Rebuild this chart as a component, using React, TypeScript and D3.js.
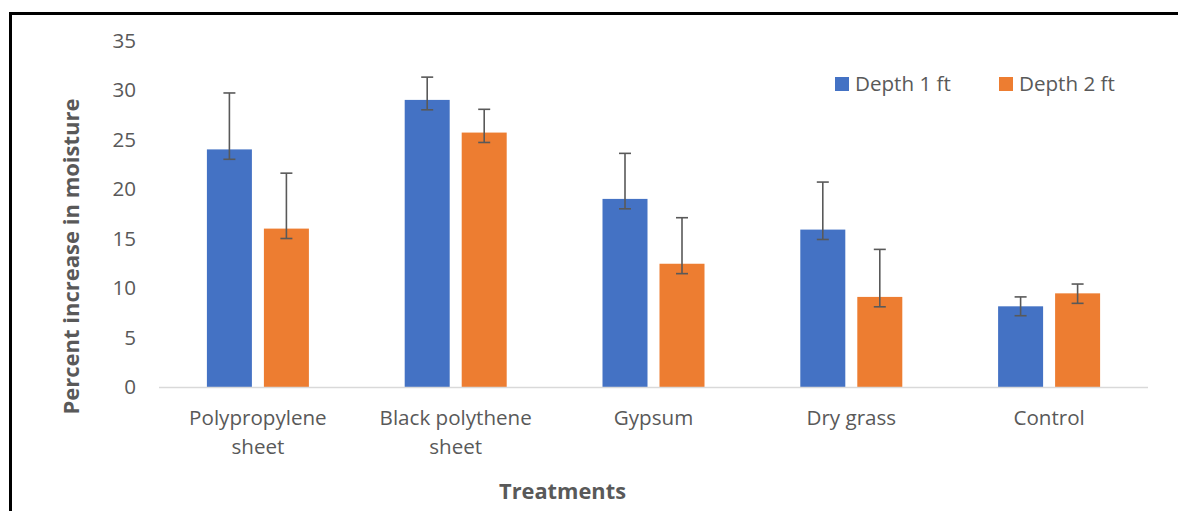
import React from "react";
import * as d3 from "d3";

const categories = ["Polypropylene sheet", "Black polythene sheet", "Gypsum", "Dry grass", "Control"];
const categoryLines = [["Polypropylene", "sheet"], ["Black polythene", "sheet"], ["Gypsum"], ["Dry grass"], ["Control"]];
const seriesNames = ["Depth 1 ft", "Depth 2 ft"];
const seriesColors = ["#4472C4", "#ED7D31"];
const depth1 = [24, 29, 19, 15.9, 8.15];
const depth1Low = [23, 28, 18, 14.9, 7.2];
const depth1High = [29.7, 31.3, 23.6, 20.7, 9.1];
const depth2 = [16, 25.7, 12.45, 9.1, 9.46];
const depth2Low = [15, 24.7, 11.45, 8.1, 8.45];
const depth2High = [21.6, 28.05, 17.1, 13.9, 10.4];
const yTicks = [0, 5, 10, 15, 20, 25, 30, 35];

const FONT = "'Open Sans', Lato, sans-serif";
const FS = 20.6;

export default function App() {
  const W = 1178, H = 511;
  const x0 = 159, x1 = 1148;
  const y = d3.scaleLinear().domain([0, 35]).range([387, 40.5]);
  const xb = d3.scaleBand<string>().domain(categories).range([x0, x1]);
  const barW = 45, gap = 12;
  const series = [
    { vals: depth1, low: depth1Low, high: depth1High },
    { vals: depth2, low: depth2Low, high: depth2High },
  ];
  const barX = (cat: string, s: number) => {
    const c = (xb(cat) as number) + xb.bandwidth() / 2;
    const total = barW * 2 + gap;
    return c - total / 2 + s * (barW + gap);
  };
  return (
    <svg width={W} height={H} style={{ position: "absolute", left: 0, top: 0, background: "#fff" }}>
      <rect x={0} y={0} width={W} height={H} fill="#fff" />
      <line x1={10.5} y1={13} x2={10.5} y2={H} stroke="#000" strokeWidth={3} />
      <line x1={9} y1={13.5} x2={W} y2={13.5} stroke="#000" strokeWidth={3} />
      {yTicks.map((t) => (
        <text key={t} x={136} y={y(t)} dy="0.35em" textAnchor="end" fontFamily={FONT} fontSize={FS} fill="#595959">
          {t}
        </text>
      ))}
      {series.map((s, si) =>
        categories.map((cat, i) => (
          <rect key={`${si}-${i}`} x={barX(cat, si)} y={y(s.vals[i])} width={barW} height={y(0) - y(s.vals[i])} fill={seriesColors[si]} />
        ))
      )}
      <line x1={x0} x2={x1} y1={387.5} y2={387.5} stroke="#d9d9d9" strokeWidth={1.5} />
      {series.map((s, si) =>
        categories.map((cat, i) => {
          const cx = barX(cat, si) + barW / 2;
          return (
            <g key={`e-${si}-${i}`} stroke="#595959" strokeWidth={1.6}>
              <line x1={cx} x2={cx} y1={y(s.low[i])} y2={y(s.high[i])} />
              <line x1={cx - 6} x2={cx + 6} y1={y(s.low[i])} y2={y(s.low[i])} />
              <line x1={cx - 6} x2={cx + 6} y1={y(s.high[i])} y2={y(s.high[i])} />
            </g>
          );
        })
      )}
      {categories.map((cat, i) => (
        <text key={cat} x={(xb(cat) as number) + xb.bandwidth() / 2} y={418} textAnchor="middle" fontFamily={FONT} fontSize={FS} fill="#595959">
          {categoryLines[i].map((ln, j) => (
            <tspan key={j} x={(xb(cat) as number) + xb.bandwidth() / 2} y={418 + j * 29} dy="0.35em">
              {ln}
            </tspan>
          ))}
        </text>
      ))}
      <text x={562.5} y={491} dy="0.35em" textAnchor="middle" fontFamily={FONT} fontSize={21.8} fontWeight="bold" fill="#595959">
        Treatments
      </text>
      <text transform={`translate(71,256.5) rotate(-90)`} dy="0.35em" textAnchor="middle" fontFamily={FONT} fontSize={22} fontWeight="bold" fill="#595959">
        Percent increase in moisture
      </text>
      {seriesNames.map((n, i) => {
        const lx = [835, 999][i];
        return (
          <g key={n}>
            <rect x={lx} y={77} width={14} height={14} fill={seriesColors[i]} />
            <text x={lx + 20} y={84} dy="0.35em" fontFamily={FONT} fontSize={FS} fill="#595959">
              {n}
            </text>
          </g>
        );
      })}
    </svg>
  );
}
